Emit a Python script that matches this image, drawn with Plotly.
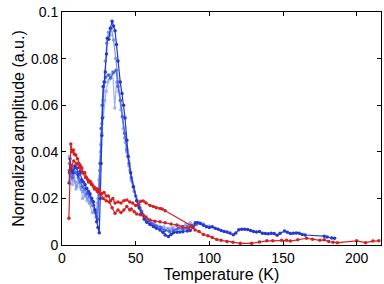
import plotly.graph_objects as go

# (Temperature K, normalized amplitude) pairs per series
dark_blue = [(4.8, 0.0266), (5.4, 0.037), (6.6, 0.032), (7.5, 0.031), (8.8, 0.034), (10, 0.033), (11, 0.030),
             (12.2, 0.0315), (13.4, 0.028), (14.5, 0.027), (15.6, 0.026), (16.8, 0.0243), (18, 0.023), (19, 0.022),
             (20.2, 0.020), (21.3, 0.0186), (22.4, 0.015), (23.5, 0.010), (24.4, 0.0075), (25.3, 0.0053),
             (26, 0.02), (26.5, 0.035), (27, 0.047), (27.4, 0.0545), (28, 0.068), (28.7, 0.070), (29.4, 0.0742),
             (30.2, 0.082), (30.8, 0.0887), (31.7, 0.0883), (32.8, 0.093), (34, 0.096), (35, 0.094), (36, 0.092),
             (37, 0.086), (38, 0.079), (39.5, 0.070), (40.7, 0.065), (41.8, 0.060), (42.8, 0.0545), (44, 0.045),
             (45, 0.038), (46.6, 0.031), (48.4, 0.025), (50.7, 0.019), (52.3, 0.016), (54, 0.0135), (55.8, 0.011),
             (57.5, 0.0098), (59.7, 0.0088), (62, 0.0079), (64, 0.0072), (66.5, 0.0064), (68.5, 0.0055),
             (70, 0.0043), (72.2, 0.0036), (74, 0.0045), (75.6, 0.0053), (78, 0.0055), (80, 0.0056), (82, 0.0057),
             (85, 0.006), (87, 0.0062), (89, 0.0075), (90.5, 0.0095), (92, 0.0095), (94, 0.0092), (96, 0.0085),
             (98, 0.0078), (100, 0.0075), (102, 0.0078), (104, 0.0072), (106, 0.0068), (108, 0.0062), (110, 0.0058),
             (112, 0.0056), (114, 0.0052), (116.3, 0.0044), (118, 0.0052), (120, 0.0065), (122, 0.0068),
             (124, 0.0068), (126, 0.0066), (128, 0.0062), (130, 0.0058), (132, 0.0056), (134, 0.0058), (136, 0.005),
             (138, 0.0049), (140, 0.0048), (142, 0.005), (144, 0.0049), (146, 0.0042), (148, 0.005), (151, 0.006),
             (153, 0.0055), (155, 0.0049), (157, 0.005), (159, 0.0052), (161, 0.005), (163, 0.0045), (165, 0.0043),
             (178, 0.0038), (180, 0.0034), (183, 0.003), (185, 0.0029)]

light_blue_a = [(5, 0.035), (6, 0.03), (7, 0.028), (8, 0.031), (9, 0.027), (10, 0.025), (11.5, 0.028), (13, 0.024),
                (14.5, 0.023), (16, 0.021), (17.5, 0.02), (19, 0.018), (20.5, 0.017), (22, 0.014), (23.5, 0.012),
                (24.5, 0.02), (25.5, 0.032), (26.3, 0.043), (27, 0.052), (27.8, 0.062), (28.6, 0.07), (29.4, 0.079),
                (30.3, 0.0866), (31.5, 0.0913), (32.5, 0.09), (33.5, 0.093), (35, 0.088), (36.5, 0.08), (38, 0.07),
                (39.5, 0.062), (41, 0.055), (42.5, 0.046), (44, 0.04), (45.5, 0.034), (47, 0.028), (49, 0.023),
                (51, 0.019), (53, 0.016), (55, 0.013), (57, 0.011), (60, 0.0095), (63, 0.0085), (66, 0.0075),
                (69, 0.0068), (72, 0.0065), (75, 0.007), (78, 0.0068), (81, 0.0075), (84, 0.0072), (87, 0.0085),
                (90, 0.009), (93, 0.0095), (96, 0.009)]

mid_blue = [(5, 0.031), (6, 0.034), (7, 0.029), (8, 0.033), (9.5, 0.031), (11, 0.029), (12.5, 0.027), (14, 0.025),
            (15.5, 0.024), (17, 0.022), (18.5, 0.021), (20, 0.019), (21.5, 0.017), (23, 0.014), (24.2, 0.011),
            (25.2, 0.022), (25.8, 0.035), (26.5, 0.05), (27.3, 0.06), (28, 0.068), (29.5, 0.072), (31.5, 0.073),
            (33, 0.0717), (35, 0.074), (36.7, 0.075), (38, 0.068), (39.8, 0.062), (41, 0.055), (42.5, 0.048),
            (44, 0.041), (45.5, 0.035), (47, 0.029), (48.5, 0.025), (50, 0.021), (52, 0.017), (54, 0.0145),
            (56, 0.012), (58.5, 0.0105), (61, 0.0092), (64, 0.0082), (67, 0.0075), (70, 0.0062), (73, 0.0058),
            (76, 0.0062), (79, 0.0072), (82, 0.0068), (85, 0.0078), (88, 0.0082), (91, 0.0088)]

light_blue_c = [(5, 0.038), (6, 0.033), (7, 0.026), (8, 0.03), (9.5, 0.024), (11, 0.027), (12.5, 0.025), (14, 0.02),
                (15.5, 0.022), (17, 0.019), (18.5, 0.018), (20.6, 0.0139), (22, 0.015), (23, 0.012), (24, 0.018),
                (25, 0.028), (26, 0.04), (27, 0.048), (28, 0.055), (29, 0.062), (30, 0.066), (31, 0.07), (32, 0.071),
                (33, 0.073), (34.4, 0.0744), (35.8, 0.0588), (37, 0.07), (38.5, 0.066), (40, 0.058), (41.5, 0.05),
                (43, 0.044), (44.5, 0.038), (46, 0.032), (47.5, 0.027), (49, 0.023), (51, 0.019), (53, 0.0155),
                (55, 0.013), (57.5, 0.011), (60, 0.0098), (63, 0.009), (66, 0.008), (69, 0.0078), (72, 0.0072),
                (75, 0.0075), (78, 0.0085), (81, 0.008), (84, 0.0088), (87, 0.0095), (90, 0.0085), (93, 0.0092),
                (96, 0.0088), (100, 0.0082)]

red_up = [(4.7, 0.0115), (6, 0.0433), (7, 0.04), (7.7, 0.0408), (8.5, 0.039), (9.3, 0.0386), (10.5, 0.037),
          (11.5, 0.035), (12.5, 0.034), (13.5, 0.033), (14.5, 0.031), (15.5, 0.031), (16.5, 0.029), (17.5, 0.028),
          (18.5, 0.0275), (19.5, 0.027), (20.5, 0.026), (21.5, 0.025), (22.5, 0.0245), (24, 0.024), (25.5, 0.0235),
          (27, 0.022), (28.5, 0.0225), (30, 0.021), (31.5, 0.021), (33, 0.019), (34.5, 0.02), (36, 0.018),
          (38, 0.0185), (40, 0.018), (42, 0.019), (44, 0.0193), (46, 0.0185), (48, 0.018), (50, 0.017),
          (52, 0.0175), (53.5, 0.0188), (55.2, 0.0189), (57, 0.018), (59.7, 0.017), (62, 0.0165), (64, 0.016),
          (66.5, 0.0157), (68, 0.0155), (70, 0.0147), (88, 0.0082), (90.3, 0.0064), (93, 0.0058), (96, 0.0045),
          (99, 0.004), (102, 0.0032), (105, 0.0024), (108, 0.002), (112, 0.0015), (116, 0.0012), (121, 0.0007),
          (128.7, 0.0007), (134, 0.0013), (139, 0.0018), (143, 0.0018), (149, 0.002), (152.5, 0.002),
          (155, 0.0017), (160, 0.0023), (166, 0.0029), (170, 0.0025), (175, 0.002), (178, 0.0022), (181, 0.0015),
          (184, 0.0012), (187, 0.001), (200, 0.0018), (206, 0.001), (211, 0.0017), (215, 0.0018)]

red_down = [(88, 0.0082), (86, 0.007), (82, 0.0078), (78, 0.0086), (74, 0.009), (70, 0.0095), (66.5, 0.01),
            (63, 0.0102), (59.7, 0.0107), (57, 0.012), (55, 0.0128), (53, 0.013), (50.7, 0.0133), (49, 0.0143),
            (47, 0.0155), (46, 0.015), (44, 0.0165), (42, 0.015), (40, 0.014), (38, 0.015), (36, 0.0136),
            (34, 0.016), (32, 0.0185), (30, 0.019), (28, 0.02), (26, 0.022), (24, 0.023), (22, 0.024), (20, 0.026),
            (18, 0.027), (16, 0.029), (14, 0.031), (12, 0.033), (10, 0.035), (8, 0.036), (6.5, 0.034), (5, 0.032)]

x_ticks = [0, 50, 100, 150, 200]
y_ticks = [0, 0.02, 0.04, 0.06, 0.08, 0.1]
y_tick_labels = ["0", "0.02", "0.04", "0.06", "0.08", "0.1"]

series = [
    (light_blue_c, "#9fb2f2"),
    (light_blue_a, "#7f97ee"),
    (mid_blue, "#4a66e0"),
    (dark_blue, "#2438d0"),
    (red_down, "#d42222"),
    (red_up, "#d42222"),
]

fig = go.Figure()
for data, color in series:
    fig.add_trace(go.Scatter(
        x=[p[0] for p in data], y=[p[1] for p in data],
        mode="lines+markers",
        line=dict(color=color, width=1.2),
        marker=dict(color=color, size=3.5),
        showlegend=False,
    ))

font = "Liberation Sans, Arial, sans-serif"
axis_common = dict(
    showline=True, linecolor="black", linewidth=1, mirror="ticks",
    ticks="inside", ticklen=4, tickcolor="black", showgrid=False, zeroline=False,
    tickfont=dict(family=font, size=14, color="black"),
)
fig.update_layout(
    width=384, height=284,
    margin=dict(l=62, r=3, t=12, b=39),
    plot_bgcolor="white", paper_bgcolor="white",
    xaxis=dict(range=[0, 216.5], tickvals=x_ticks,
               title=dict(text="Temperature (K)", font=dict(family=font, size=16, color="black"), standoff=4),
               **axis_common),
    yaxis=dict(range=[0, 0.1], tickvals=y_ticks, ticktext=y_tick_labels,
               title=dict(text="Normalized amplitude (a.u.)", font=dict(family=font, size=16, color="black"), standoff=2),
               **axis_common),
)
fig.write_html("out.html")
